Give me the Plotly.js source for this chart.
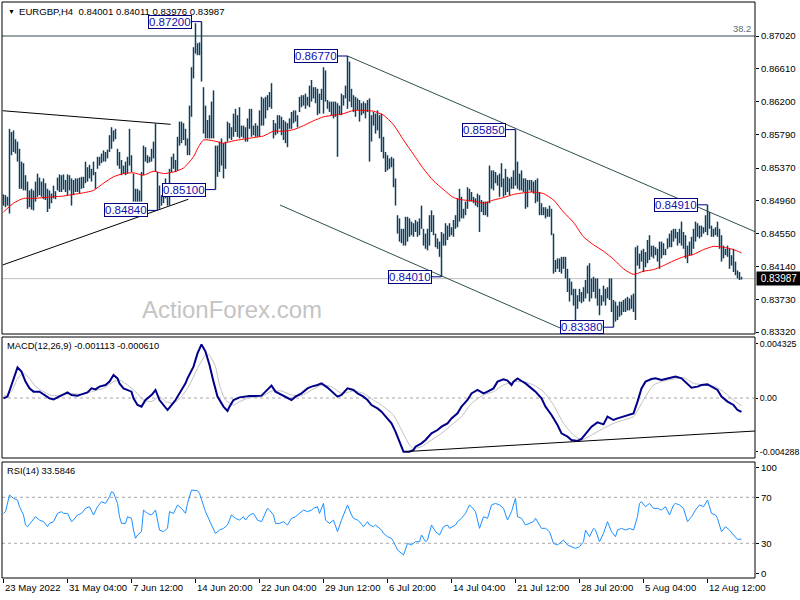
<!DOCTYPE html>
<html>
<head>
<meta charset="utf-8">
<script src="https://cdn.plot.ly/plotly-3.0.1.min.js"></script>
<style>html,body{margin:0;padding:0;background:#fff;}#chart{width:800px;height:600px;}</style>
</head>
<body>
<div id="chart"></div>
<script>
// ---- DATA (EURGBP H4, bar index 0 = 23 May 2022) ----
const highs = [
0.8504,0.8503,0.8501,0.8586,0.8582,0.8584,0.8573,0.8570,0.8561,0.8545,
0.8543,0.8528,0.8520,0.8509,0.8511,0.8509,0.8520,0.8530,0.8525,0.8520,
0.8524,0.8518,0.8511,0.8509,0.8505,0.8515,0.8508,0.8525,0.8529,0.8528,
0.8529,0.8522,0.8529,0.8528,0.8524,0.8522,0.8524,0.8524,0.8525,0.8526,
0.8526,0.8545,0.8538,0.8541,0.8536,0.8545,0.8532,0.8551,0.8551,0.8555,
0.8559,0.8557,0.8560,0.8578,0.8588,0.8584,0.8586,0.8561,0.8557,0.8547,
0.8540,0.8545,0.8551,0.8586,0.8553,0.8530,0.8511,0.8511,0.8509,0.8532,
0.8565,0.8563,0.8553,0.8551,0.8561,0.8570,0.8593,0.8532,0.8515,0.8503,
0.8507,0.8524,0.8518,0.8536,0.8551,0.8555,0.8547,0.8576,0.8595,0.8595,
0.8593,0.8586,0.8574,0.8615,0.8663,0.8688,0.8718,0.8693,0.8694,0.8720,
0.8638,0.8615,0.8597,0.8603,0.8620,0.8634,0.8565,0.8565,0.8570,0.8574,
0.8568,0.8570,0.8595,0.8593,0.8588,0.8605,0.8611,0.8603,0.8613,0.8590,
0.8590,0.8588,0.8599,0.8611,0.8611,0.8590,0.8593,0.8590,0.8609,0.8626,
0.8624,0.8626,0.8628,0.8632,0.8643,0.8597,0.8593,0.8603,0.8603,0.8601,
0.8597,0.8595,0.8593,0.8599,0.8607,0.8609,0.8609,0.8603,0.8626,0.8628,
0.8628,0.8630,0.8626,0.8640,0.8647,0.8638,0.8638,0.8636,0.8630,0.8636,
0.8663,0.8659,0.8622,0.8620,0.8620,0.8620,0.8620,0.8618,0.8615,0.8630,
0.8628,0.8640,0.8677,0.8670,0.8636,0.8628,0.8626,0.8624,0.8622,0.8618,
0.8620,0.8618,0.8622,0.8624,0.8603,0.8607,0.8605,0.8609,0.8603,0.8605,
0.8576,0.8557,0.8553,0.8549,0.8551,0.8549,0.8524,0.8478,0.8474,0.8461,
0.8461,0.8476,0.8476,0.8474,0.8470,0.8468,0.8472,0.8470,0.8474,0.8490,
0.8461,0.8455,0.8461,0.8478,0.8484,0.8478,0.8455,0.8449,0.8445,0.8457,
0.8455,0.8468,0.8465,0.8468,0.8463,0.8472,0.8478,0.8499,0.8511,0.8501,
0.8486,0.8495,0.8513,0.8511,0.8507,0.8501,0.8499,0.8505,0.8503,0.8497,
0.8495,0.8495,0.8495,0.8540,0.8534,0.8534,0.8532,0.8528,0.8530,0.8543,
0.8524,0.8536,0.8526,0.8524,0.8526,0.8534,0.8585,0.8545,0.8530,0.8534,
0.8524,0.8524,0.8522,0.8522,0.8522,0.8520,0.8522,0.8524,0.8507,0.8493,
0.8488,0.8488,0.8486,0.8490,0.8486,0.8455,0.8422,0.8424,0.8424,0.8426,
0.8426,0.8426,0.8411,0.8399,0.8395,0.8386,0.8386,0.8378,0.8386,0.8382,
0.8388,0.8397,0.8415,0.8418,0.8399,0.8401,0.8399,0.8399,0.8386,0.8378,
0.8390,0.8386,0.8388,0.8399,0.8399,0.8372,0.8370,0.8365,0.8370,0.8370,
0.8372,0.8374,0.8376,0.8374,0.8378,0.8380,0.8438,0.8440,0.8430,0.8434,
0.8436,0.8432,0.8447,0.8453,0.8440,0.8440,0.8438,0.8436,0.8445,0.8445,
0.8443,0.8436,0.8449,0.8455,0.8459,0.8461,0.8461,0.8457,0.8461,0.8470,
0.8457,0.8453,0.8440,0.8445,0.8451,0.8461,0.8470,0.8468,0.8465,0.8465,
0.8463,0.8478,0.8491,0.8482,0.8465,0.8461,0.8463,0.8470,0.8461,0.8453,
0.8440,0.8436,0.8440,0.8436,0.8428,0.8436,0.8420,0.8409,0.8407,0.84011];
const lows = [
0.8490,0.8488,0.8490,0.8480,0.8553,0.8557,0.8555,0.8545,0.8511,0.8511,
0.8509,0.8509,0.8486,0.8488,0.8485,0.8484,0.8495,0.8501,0.8503,0.8501,
0.8498,0.8497,0.8482,0.8486,0.8493,0.8499,0.8498,0.8509,0.8507,0.8507,
0.8510,0.8507,0.8503,0.8509,0.8490,0.8503,0.8507,0.8507,0.8505,0.8511,
0.8512,0.8518,0.8520,0.8524,0.8520,0.8528,0.8511,0.8536,0.8540,0.8543,
0.8545,0.8545,0.8549,0.8557,0.8561,0.8570,0.8573,0.8540,0.8536,0.8528,
0.8530,0.8528,0.8530,0.8540,0.8532,0.8495,0.8495,0.8495,0.8495,0.8495,
0.8528,0.8545,0.8543,0.8544,0.8545,0.8549,0.8532,0.8484,0.8486,0.8490,
0.8493,0.8499,0.8490,0.8490,0.8532,0.8536,0.8532,0.8534,0.8565,0.8568,
0.8572,0.8565,0.8553,0.8553,0.8601,0.8649,0.8680,0.8678,0.8678,0.8645,
0.8580,0.8574,0.8574,0.8574,0.8574,0.8574,0.8510,0.8526,0.8532,0.8540,
0.8524,0.8536,0.8570,0.8574,0.8572,0.8576,0.8582,0.8576,0.8574,0.8576,
0.8574,0.8570,0.8570,0.8586,0.8576,0.8578,0.8576,0.8576,0.8576,0.8590,
0.8590,0.8599,0.8609,0.8613,0.8611,0.8574,0.8578,0.8580,0.8586,0.8578,
0.8572,0.8568,0.8563,0.8586,0.8586,0.8593,0.8595,0.8588,0.8607,0.8613,
0.8615,0.8611,0.8615,0.8613,0.8620,0.8624,0.8618,0.8603,0.8605,0.8622,
0.8605,0.8620,0.8611,0.8607,0.8603,0.8599,0.8601,0.8551,0.8603,0.8603,
0.8615,0.8624,0.8611,0.8620,0.8613,0.8607,0.8601,0.8609,0.8595,0.8603,
0.8605,0.8599,0.8607,0.8545,0.8570,0.8590,0.8580,0.8584,0.8574,0.8557,
0.8549,0.8532,0.8534,0.8536,0.8538,0.8513,0.8490,0.8455,0.8445,0.8443,
0.8440,0.8440,0.8445,0.8451,0.8453,0.8451,0.8457,0.8451,0.8453,0.8461,
0.8440,0.8436,0.8434,0.8440,0.8457,0.8453,0.8438,0.8436,0.8426,0.8401,
0.8440,0.8440,0.8447,0.8451,0.8453,0.8451,0.8461,0.8463,0.8470,0.8474,
0.8474,0.8478,0.8486,0.8495,0.8495,0.8493,0.8490,0.8488,0.8457,0.8482,
0.8478,0.8478,0.8476,0.8493,0.8511,0.8509,0.8518,0.8515,0.8501,0.8513,
0.8501,0.8503,0.8507,0.8503,0.8511,0.8511,0.8515,0.8511,0.8509,0.8509,
0.8507,0.8486,0.8488,0.8509,0.8507,0.8505,0.8493,0.8495,0.8478,0.8478,
0.8478,0.8474,0.8476,0.8476,0.8453,0.8405,0.8407,0.8411,0.8407,0.8405,
0.8411,0.8399,0.8382,0.8370,0.8378,0.8365,0.8345,0.8361,0.8370,0.8368,
0.8370,0.8374,0.8380,0.8370,0.8374,0.8382,0.8374,0.8365,0.8353,0.8365,
0.8370,0.8365,0.8374,0.8372,0.8357,0.8338,0.8345,0.8347,0.8351,0.8353,
0.8357,0.8357,0.8359,0.8359,0.8361,0.8357,0.8347,0.8415,0.8411,0.8420,
0.8407,0.8413,0.8418,0.8422,0.8426,0.8424,0.8428,0.8420,0.8411,0.8424,
0.8428,0.8428,0.8436,0.8438,0.8438,0.8445,0.8449,0.8440,0.8443,0.8440,
0.8436,0.8424,0.8418,0.8428,0.8428,0.8436,0.8445,0.8451,0.8449,0.8451,
0.8455,0.8457,0.8453,0.8461,0.8451,0.8451,0.8453,0.8451,0.8436,0.8420,
0.8424,0.8428,0.8426,0.8411,0.8415,0.8407,0.8403,0.8399,0.8397,0.83976];

// moving average (red)
const maIdx = [0,5,10,15,20,25,30,35,40,45,50,55,60,65,70,75,80,85,90,95,97,100,105,110,115,120,125,130,135,140,145,150,155,160,165,170,175,180,185,190,195,200,205,210,215,220,225,230,235,240,245,250,255,260,265,270,275,280,285,290,295,300,305,310,315,320,325,330,335,340,345,350,355,360,365,369];
const maVal = [0.8482,0.8493,0.8499,0.8499,0.8500,0.8501,0.8502,0.8504,0.8506,0.8509,0.8518,0.8526,0.8530,0.8531,0.8528,0.8533,0.8530,0.8532,0.8537,0.8551,0.8561,0.8572,0.8571,0.8568,0.8571,0.8573,0.8575,0.8577,0.8583,0.8583,0.8585,0.8590,0.8596,0.8601,0.8603,0.8605,0.8609,0.8609,0.8608,0.8603,0.8591,0.8572,0.8554,0.8536,0.8521,0.8510,0.8500,0.8497,0.8496,0.8493,0.8497,0.8500,0.8504,0.8506,0.8507,0.8505,0.8497,0.8482,0.8469,0.8451,0.8441,0.8433,0.8423,0.8411,0.8404,0.8408,0.8410,0.8415,0.8421,0.8426,0.8429,0.8435,0.8439,0.8438,0.8435,0.8431];

// MACD(12,26,9)
const macdIdx = [0,2,4,6,7,9,11,13,15,18,20,23,25,28,30,32,34,37,39,42,44,46,48,51,53,55,57,58,60,62,64,65,67,69,71,74,76,78,80,82,84,86,89,91,92,95,97,99,101,103,105,107,110,112,113,115,118,120,123,126,129,131,134,136,139,141,144,146,149,152,154,157,159,162,164,167,169,172,175,177,180,182,184,187,189,192,194,196,198,200,203,205,206,209,211,214,217,219,222,224,227,229,232,234,237,240,242,245,247,250,252,254,255,257,259,261,264,266,269,271,274,277,279,282,284,287,289,292,294,297,300,302,305,307,310,312,315,317,319,321,324,326,329,331,334,336,339,342,344,347,349,352,354,357,359,362,365,367,369];
const macdVal = [-0.00003,0.00011,0.00104,0.00211,0.00245,0.00211,0.00131,0.00077,0.00051,0.00051,0.00029,-0.00003,-0.00011,0.00011,0.00029,0.00045,0.00024,0.00019,0.00029,0.00045,0.00077,0.00069,0.00091,0.00104,0.00131,0.00184,0.00157,0.00117,0.00077,0.00064,0.00051,-0.00003,-0.00056,-0.00069,-0.00016,0.00024,0.00064,-0.00016,-0.00056,-0.00096,-0.00056,-0.00016,0.00064,0.00117,0.00157,0.00251,0.00357,0.00429,0.00371,0.00264,0.00131,0.00011,-0.00069,-0.00104,-0.00069,-0.00016,0.00005,0.00011,0.00016,0.00016,0.00019,0.00051,0.00099,0.00051,0.00024,0.00011,-0.00016,0.00011,0.00037,0.00077,0.00091,0.00104,0.00117,0.00083,0.00051,0.00011,0.00024,0.00077,0.00064,0.00037,0.00011,-0.00016,-0.00056,-0.00083,-0.00109,-0.00163,-0.00203,-0.00269,-0.00349,-0.00429,-0.00429,-0.00416,-0.00389,-0.00363,-0.00336,-0.00283,-0.00256,-0.00229,-0.00203,-0.00163,-0.00123,-0.00069,-0.00016,0.00037,0.00064,0.00037,0.00051,0.00077,0.00131,0.00149,0.00139,0.00104,0.00131,0.00157,0.00136,0.00117,0.00077,0.00051,-0.00003,-0.00069,-0.00136,-0.00216,-0.00283,-0.00309,-0.00336,-0.00344,-0.00328,-0.00269,-0.00229,-0.00195,-0.00211,-0.00149,-0.00176,-0.00163,-0.00149,-0.00136,-0.00123,-0.00029,0.00077,0.00131,0.00152,0.00157,0.00144,0.00152,0.00163,0.00171,0.00157,0.00117,0.00083,0.00091,0.00104,0.00109,0.00091,0.00064,0.00011,-0.00029,-0.00056,-0.00096,-0.001113];
const sigIdx = [0,4,7,10,13,16,20,24,29,34,39,44,50,55,58,62,66,70,74,78,81,85,89,93,97,101,103,106,108,111,115,118,123,129,134,139,144,149,154,159,164,169,175,180,185,190,195,199,203,205,209,214,219,224,229,234,240,245,250,255,260,265,270,275,280,285,289,294,300,305,310,315,320,325,330,335,340,345,351,356,361,366,369];
const sigVal = [0.00011,0.00051,0.00157,0.00197,0.00157,0.00091,0.00051,0.00019,0.00024,0.00037,0.00029,0.00051,0.00077,0.00131,0.00144,0.00104,0.00051,-0.00016,-0.00029,0.00011,-0.00029,-0.00043,0.00011,0.00104,0.00237,0.00344,0.00344,0.00251,0.00104,-0.00016,-0.00056,-0.00029,0.00003,0.00011,0.00056,0.00056,0.00024,0.00019,0.00064,0.00104,0.00091,0.00037,0.00056,0.00037,-0.00016,-0.00069,-0.00136,-0.00256,-0.00376,-0.00403,-0.00389,-0.00336,-0.00283,-0.00216,-0.00149,-0.00043,0.00024,0.00051,0.00104,0.00131,0.00131,0.00104,0.00051,-0.00056,-0.00203,-0.00296,-0.00336,-0.00296,-0.00243,-0.00203,-0.00176,-0.00149,-0.00016,0.00104,0.00136,0.00152,0.00163,0.00117,0.00104,0.00091,0.00037,-0.00029,-0.00061];
const macdTrend = {idx:[200.75,375.75], val:[-0.00429,-0.00264]};

// RSI(14)
const rsiIdx = [0,1,3,5,7,8,10,11,12,14,16,18,20,22,23,25,27,29,30,32,34,35,37,39,41,43,45,47,49,51,53,54,55,57,58,59,61,62,64,65,66,67,69,70,72,74,76,78,80,82,83,85,87,89,91,92,94,97,98,101,103,104,106,108,110,112,114,116,118,120,121,123,125,127,129,130,132,133,135,136,138,140,142,144,146,148,150,152,154,155,157,158,160,161,163,165,167,169,170,172,174,175,177,178,180,182,183,185,186,189,190,192,194,195,197,199,200,202,204,206,208,209,211,212,214,216,218,220,222,223,226,227,229,231,233,234,236,238,240,242,244,246,248,250,252,254,256,257,259,261,263,265,266,268,269,271,273,275,277,279,280,282,284,286,288,290,291,293,295,296,298,300,302,304,306,307,309,311,313,315,317,318,319,321,323,325,327,329,331,333,335,336,338,340,342,344,346,348,350,352,354,356,357,359,361,363,365,367,369];
const rsiVal = [56.0,57.5,72.0,69.1,67.6,61.8,54.6,45.9,44.4,48.8,53.1,50.2,48.8,44.4,47.3,48.8,56.0,57.5,56.0,56.0,48.8,50.2,54.6,56.0,60.4,61.8,54.6,61.8,66.2,64.7,70.5,74.9,74.0,64.7,53.1,47.3,47.3,53.1,51.7,41.5,34.3,37.2,40.1,58.9,56.0,54.6,58.9,41.5,40.1,43.0,57.5,56.0,63.3,60.4,56.0,64.7,76.3,75.7,73.4,57.5,48.8,45.9,38.6,41.5,43.0,45.9,54.6,51.7,50.2,53.1,50.2,54.6,56.0,50.2,48.8,53.1,60.4,58.9,54.6,47.3,47.3,48.8,45.9,51.7,53.1,56.0,58.9,57.5,58.9,60.4,61.8,56.0,64.7,50.2,47.3,50.2,40.1,50.2,54.6,63.3,54.6,51.7,50.2,48.8,44.4,48.8,45.9,44.4,45.9,41.5,38.6,35.7,34.3,31.4,24.1,21.2,19.8,29.9,28.5,31.4,31.4,37.2,31.4,32.8,45.9,40.1,37.2,44.4,45.9,43.0,45.9,48.8,51.7,56.0,63.3,61.8,57.5,43.0,53.1,51.7,63.3,64.7,63.3,60.4,50.2,57.5,69.1,53.1,51.7,45.9,47.3,48.8,51.7,45.9,43.0,43.0,40.1,29.9,28.5,31.4,32.8,28.5,27.0,25.6,27.0,31.4,41.5,35.7,43.0,41.5,31.4,38.6,48.8,40.1,35.7,41.5,43.0,41.5,43.0,41.5,53.1,64.7,66.2,61.8,64.7,60.4,60.4,58.9,61.8,54.6,63.3,64.7,63.3,60.4,48.8,53.1,58.9,63.3,61.8,67.6,56.0,54.6,51.7,40.1,44.4,41.5,37.2,33.4,33.6];

// axis labels
const dateIdx = [0,32,64,96,128,160,192,224,256,288,320,352];
const dateLabels = ["23 May 2022","31 May 04:00","7 Jun 12:00","14 Jun 20:00","22 Jun 04:00","29 Jun 12:00","6 Jul 20:00","14 Jul 04:00","21 Jul 12:00","28 Jul 20:00","5 Aug 04:00","12 Aug 12:00"];
const priceTicks = [0.8702,0.8661,0.8620,0.8579,0.8537,0.8496,0.8455,0.8414,0.8373,0.8332];
const macdTicks = [0.004325,0,-0.004288];
const macdTickText = ["0.004325","0.00","-0.004288"];
const rsiTicks = [96,70,30,4];
const rsiTickText = ["100","70","30","0"];
const macdHeader = "MACD(12,26,9) -0.001113 -0.000610";
const rsiHeader = "RSI(14) 33.5846";

// pivots (bar index, price)
const pivotIdx = [99,172,77,106,219,256,305,352];
const pivotVal = [0.8720,0.8677,0.8484,0.8510,0.8401,0.8585,0.8338,0.8491];
// trend lines (bar index, price)
const triTop = {idx:[-0.4,83.6], val:[0.86086,0.85916]};
const triBot = {idx:[-0.4,92.4], val:[0.84158,0.84979]};
const chTop = {idx:[172,375.75], val:[0.8677,0.84574]};
const chBot = {idx:[138.25,284.1], val:[0.84907,0.83307]};
const fibLevel = 0.8702, fibText = "38.2";
const lastOHLC = [0.84001,0.84011,0.83976,0.83987];
const symbol = "EURGBP,H4";

// ---- BUILD ----
const bx = [], by = [];
for (let i = 0; i < highs.length; i++) { bx.push(i, i, null); by.push(lows[i], highs[i], null); }

const F = "Liberation Sans, Arial, sans-serif";
const traces = [
  {x: triTop.idx, y: triTop.val, mode:'lines', line:{color:'#000', width:1}, xaxis:'x', yaxis:'y', hoverinfo:'skip'},
  {x: triBot.idx, y: triBot.val, mode:'lines', line:{color:'#000', width:1}, xaxis:'x', yaxis:'y', hoverinfo:'skip'},
  {x: chTop.idx, y: chTop.val, mode:'lines', line:{color:'#2F4F4F', width:1}, xaxis:'x', yaxis:'y', hoverinfo:'skip'},
  {x: chBot.idx, y: chBot.val, mode:'lines', line:{color:'#2F4F4F', width:1}, xaxis:'x', yaxis:'y', hoverinfo:'skip'},
  {x: bx, y: by, mode:'lines', line:{color:'#0F3F5C', width:1.5}, connectgaps:false, xaxis:'x', yaxis:'y', hoverinfo:'skip'},
  {x: maIdx, y: maVal, mode:'lines', line:{color:'#FF0000', width:1, shape:'spline', smoothing:0.6}, xaxis:'x', yaxis:'y', hoverinfo:'skip'},
  {x: sigIdx, y: sigVal, mode:'lines', line:{color:'#C0C0C0', width:1, shape:'spline', smoothing:0.5}, xaxis:'x', yaxis:'y2', hoverinfo:'skip'},
  {x: macdIdx, y: macdVal, mode:'lines', line:{color:'#00008B', width:2}, xaxis:'x', yaxis:'y2', hoverinfo:'skip'},
  {x: macdTrend.idx, y: macdTrend.val, mode:'lines', line:{color:'#000', width:1}, xaxis:'x', yaxis:'y2', hoverinfo:'skip'},
  {x: rsiIdx, y: rsiVal, mode:'lines', line:{color:'#1E90FF', width:1}, xaxis:'x', yaxis:'y3', hoverinfo:'skip'}
];

const shapes = [];
const rect = (yref) => ({type:'rect', xref:'paper', x0:0, x1:1, yref:yref, y0:0, y1:1, line:{color:'#000', width:1}, fillcolor:'rgba(0,0,0,0)', layer:'above'});
shapes.push(rect('y domain'), rect('y2 domain'), rect('y3 domain'));
shapes.push({type:'line', xref:'paper', x0:0, x1:1, yref:'y', y0:fibLevel, y1:fibLevel, line:{color:'#2F4F4F', width:1}, layer:'below'});
shapes.push({type:'line', xref:'paper', x0:0, x1:1, yref:'y', y0:lastOHLC[3], y1:lastOHLC[3], line:{color:'#C0C0C0', width:1}, layer:'below'});
shapes.push({type:'line', xref:'paper', x0:0, x1:1, yref:'y2', y0:0, y1:0, line:{color:'#A8A8A8', width:1, dash:'3px,3px'}, layer:'below'});
[70,30].forEach(v => shapes.push({type:'line', xref:'paper', x0:0, x1:1, yref:'y3', y0:v, y1:v, line:{color:'#A8A8A8', width:1, dash:'3px,3px'}, layer:'below'}));

const annotations = [];
// pivot labels with connectors
for (let k = 0; k < pivotIdx.length; k++) {
  const boxRight = pivotIdx[k] - 5;
  shapes.push({type:'line', xref:'x', yref:'y', x0:boxRight, x1:pivotIdx[k], y0:pivotVal[k], y1:pivotVal[k], line:{color:'#000080', width:1}});
  annotations.push({xref:'x', yref:'y', x:boxRight, y:pivotVal[k], xanchor:'right', yanchor:'middle', text:pivotVal[k].toFixed(5), showarrow:false,
    font:{family:F, size:11.5, color:'#1010B0'}, bgcolor:'#fff', bordercolor:'#000080', borderwidth:1, borderpad:0});
}
// date labels (left-aligned at tick)
dateIdx.forEach((d, k) => annotations.push({xref:'x', yref:'paper', x:d, y:0, xanchor:'left', yanchor:'top', yshift:-2, xshift:-1, text:dateLabels[k], showarrow:false, font:{family:F, size:9.6, color:'#000'}}));
// headers
annotations.push({xref:'paper', yref:'paper', x:0, y:1, xanchor:'left', yanchor:'top', xshift:4, yshift:-4, text:'▼', showarrow:false, font:{family:F, size:7, color:'#000'}});
annotations.push({xref:'paper', yref:'paper', x:0, y:1, xanchor:'left', yanchor:'top', xshift:15, yshift:-2, showarrow:false,
  text: symbol + '&nbsp;&nbsp;' + lastOHLC.map(v => v.toFixed(5)).join(' '), font:{family:F, size:9.6, color:'#000'}});
annotations.push({xref:'paper', yref:'y2 domain', x:0, y:1, xanchor:'left', yanchor:'top', xshift:3, yshift:-2, showarrow:false,
  text:macdHeader, font:{family:F, size:9.3, color:'#000'}});
annotations.push({xref:'paper', yref:'y3 domain', x:0, y:1, xanchor:'left', yanchor:'top', xshift:3, yshift:-2, showarrow:false,
  text:rsiHeader, font:{family:F, size:9.3, color:'#000'}});
annotations.push({xref:'paper', yref:'y', x:1, y:fibLevel, xanchor:'right', yanchor:'bottom', xshift:-2, showarrow:false, text:fibText, font:{family:F, size:9.3, color:'#5A6A7A'}});
annotations.push({xref:'paper', yref:'y', x:1, y:lastOHLC[3], xanchor:'left', yanchor:'middle', xshift:1, showarrow:false, text:lastOHLC[3].toFixed(5),
  font:{family:F, size:10, color:'#fff'}, bgcolor:'#000', borderpad:1, width:42});
annotations.push({xref:'paper', yref:'paper', x:0.3054, y:0.467, xanchor:'center', yanchor:'middle', showarrow:false, text:'ActionForex.com', font:{family:F, size:24, color:'#C4C4C4'}});

const yBase = {side:'right', showgrid:false, zeroline:false, ticks:'outside', ticklen:3, tickcolor:'#000', tickwidth:1, showline:false, tickfont:{family:F, size:9.6, color:'#000'}, tickmode:'array', anchor:'x', fixedrange:true};
const layout = {
  width:800, height:600, margin:{l:2, r:45, t:2, b:22}, paper_bgcolor:'#fff', plot_bgcolor:'#fff', showlegend:false,
  xaxis:{domain:[0,1], range:[-0.75,375.75], anchor:'y3', showgrid:false, zeroline:false, ticks:'outside', ticklen:4, tickcolor:'#000', tickmode:'array', tickvals:dateIdx, showticklabels:false, showline:false},
  yaxis: Object.assign({}, yBase, {domain:[0.42361,1], range:[0.83295,0.87445], tickvals:priceTicks, ticktext:priceTicks.map(v=>v.toFixed(5))}),
  yaxis2: Object.assign({}, yBase, {domain:[0.20833,0.41840], range:[-0.0048,0.00488], tickvals:macdTicks, ticktext:macdTickText, ticklen:2, tickfont:{family:F, size:8.8, color:'#000'}}),
  yaxis3: Object.assign({}, yBase, {domain:[0,0.20139], range:[-0.2,100.7], tickvals:rsiTicks, ticktext:rsiTickText}),
  shapes: shapes, annotations: annotations
};
Plotly.newPlot('chart', traces, layout, {staticPlot:true, displayModeBar:false});
</script>
</body>
</html>
